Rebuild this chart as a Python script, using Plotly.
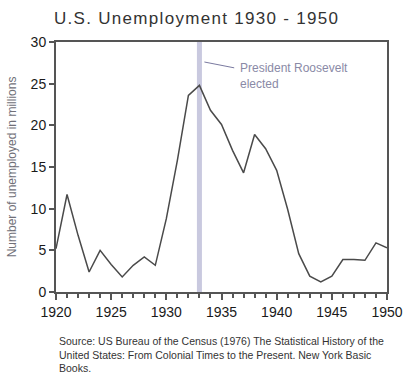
import plotly.graph_objects as go

years = list(range(1920, 1951))
unemployed = [5.2, 11.7, 6.8, 2.4, 5.0, 3.3, 1.8, 3.2, 4.2, 3.2,
              8.8, 15.8, 23.6, 24.8, 21.8, 20.1, 17.0, 14.3, 18.9, 17.2,
              14.6, 9.9, 4.6, 1.9, 1.2, 1.9, 3.9, 3.9, 3.8, 5.9, 5.3]
event_year = 1933
event_label = "President Roosevelt<br>elected"
title_text = "U.S. Unemployment 1930 - 1950"
y_title = "Number of unemployed in millions"
source_text = ("Source: US Bureau of the Census (1976) The Statistical History of the<br>"
               "United States: From Colonial Times to the Present. New York Basic<br>"
               "Books.")

FONT = "Liberation Sans, Arial, sans-serif"
W, H = 409, 377
L, R, T, B = 56, 22, 42, 85
PW, PH = W - L - R, H - T - B

fig = go.Figure()
fig.add_trace(go.Scatter(x=years, y=unemployed, mode="lines",
                         line=dict(color="#4a4a4a", width=1.5),
                         showlegend=False, hoverinfo="x+y"))

fig.add_shape(type="line", x0=event_year, x1=event_year, y0=0, y1=1,
              xref="x", yref="paper", layer="below",
              line=dict(color="#c9c9df", width=5))
fig.add_shape(type="line", x0=event_year + 0.45, y0=27.6, x1=event_year + 3.15, y1=26.9,
              xref="x", yref="y", line=dict(color="#7a7aa0", width=1))
fig.add_annotation(x=event_year + 3.45, y=28.0, xref="x", yref="y",
                   text=event_label, showarrow=False, xanchor="left", yanchor="top",
                   align="left", font=dict(family=FONT, size=12, color="#8a8aa6"))

fig.add_annotation(x=(57 - L) / PW, y=-(333 - (T + PH)) / PH, xref="paper", yref="paper",
                   text=source_text, showarrow=False, xanchor="left", yanchor="top",
                   align="left", font=dict(family=FONT, size=10.5, color="#333333"))

fig.update_layout(
    width=W, height=H,
    margin=dict(l=L, r=R, t=T, b=B, autoexpand=False),
    paper_bgcolor="white", plot_bgcolor="white",
    title=dict(text='<span style="letter-spacing:1.3px">' + title_text + '</span>',
               x=54 / W, xanchor="left", xref="container",
               y=1 - 18 / H, yanchor="middle", yref="container",
               font=dict(family=FONT, size=17, color="#333333")),
    font=dict(family=FONT, color="#222222"),
    xaxis=dict(range=[1920, 1950], tickmode="array", tickvals=[1920, 1925, 1930, 1935, 1940, 1945, 1950],
               ticks="outside", ticklen=6, tickwidth=1.5, tickcolor="#555555",
               minor=dict(dtick=1, tick0=1920, ticks="outside", ticklen=4, tickcolor="#555555", tickwidth=1.5),
               showline=True, linecolor="#555555", linewidth=2, mirror=True,
               showgrid=False, zeroline=False, automargin=False,
               tickfont=dict(family=FONT, size=14, color="#1a1a1a")),
    yaxis=dict(range=[0, 30], tickmode="array", tickvals=[0, 5, 10, 15, 20, 25, 30],
               ticks="outside", ticklen=5, tickwidth=1.5, tickcolor="#555555",
               showline=True, linecolor="#555555", linewidth=2, mirror=True,
               showgrid=False, zeroline=False, automargin=False,
               tickfont=dict(family=FONT, size=14, color="#1a1a1a"),
               title=dict(text=y_title, standoff=11,
                          font=dict(family=FONT, size=12, color="#707078"))),
)

fig.write_html("out.html", config={"displayModeBar": False},
               post_script="document.body.style.margin='0';document.body.style.padding='0';")
